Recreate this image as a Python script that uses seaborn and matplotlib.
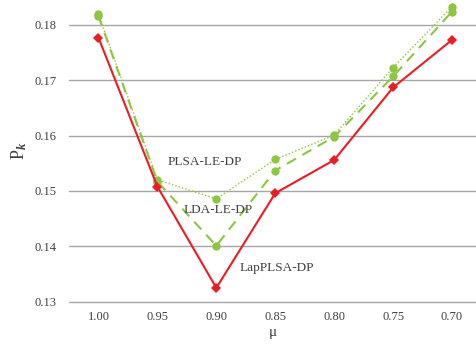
import matplotlib
matplotlib.use("Agg")
import matplotlib.pyplot as plt
import seaborn as sns
import pandas as pd

# mu values along the x axis (decreasing)
mu_labels = ["1.00", "0.95", "0.90", "0.85", "0.80", "0.75", "0.70"]

# P_k for each method
lapplsa_dp = [0.1777, 0.1508, 0.1325, 0.1496, 0.1556, 0.1687, 0.1773]
plsa_le_dp = [0.1819, 0.1520, 0.1486, 0.1557, 0.1601, 0.1723, 0.1833]
lda_le_dp = [0.1816, 0.1517, 0.1401, 0.1537, 0.1598, 0.1707, 0.1824]

sns.set_theme(style="white")
plt.rcParams["font.family"] = ["Liberation Serif", "DejaVu Serif"]
plt.rcParams["mathtext.fontset"] = "custom"
plt.rcParams["mathtext.rm"] = "Liberation Serif"
plt.rcParams["mathtext.it"] = "Liberation Serif:italic"
plt.rcParams["mathtext.bf"] = "Liberation Serif:italic:bold"

red = "#ED1C24"
green = "#8DC63F"
text_color = "#404040"

fig = plt.figure(figsize=(4.77, 3.45), dpi=100)
ax = fig.add_axes([69 / 477, 1 - 301.7 / 345, 1 - 69 / 477, 301.7 / 345])

df = pd.DataFrame({"mu": mu_labels, "lap": lapplsa_dp,
                   "plsa": plsa_le_dp, "lda": lda_le_dp})

sns.lineplot(data=df, x="mu", y="plsa", ax=ax, color=green, linestyle=(0, (1, 1.5)),
             linewidth=1.0, marker="o", markersize=6, markeredgewidth=0, sort=False)
sns.lineplot(data=df, x="mu", y="lda", ax=ax, color=green, linestyle=(0, (5, 3.5)),
             linewidth=1.5, marker="o", markersize=6, markeredgewidth=0, sort=False)
sns.lineplot(data=df, x="mu", y="lap", ax=ax, color=red, linestyle="-",
             linewidth=1.5, marker="D", markersize=5.5, markeredgewidth=0, sort=False)

ax.set_xlim(-0.5, (477 - 98) / 59)
ax.set_ylim(0.13, 0.1845)
ax.set_yticks([0.13, 0.14, 0.15, 0.16, 0.17, 0.18])
ax.set_yticklabels(["0.13", "0.14", "0.15", "0.16", "0.17", "0.18"])
ax.yaxis.grid(True, color="#A6A6A6", linewidth=1.0)
for gl in ax.get_ygridlines():
    gl.set_clip_on(False)
ax.xaxis.grid(False)
ax.set_axisbelow(True)
for side in ["left", "right", "top", "bottom"]:
    ax.spines[side].set_visible(False)

ax.tick_params(axis="both", length=0, labelsize=9, colors=text_color)
ax.tick_params(axis="y", pad=9)
ax.tick_params(axis="x", pad=7)

ax.set_xlabel("μ", fontsize=11, color=text_color, labelpad=2)
ax.set_ylabel(r"$\mathrm{P}_{\mathbf{k}}$", fontsize=13, color=text_color, labelpad=4)

# series names placed beside their curves
ax.text(1.18, 0.1553, "PLSA-LE-DP", fontsize=9.5, color=text_color, va="center")
ax.text(1.44, 0.1466, "LDA-LE-DP", fontsize=9.5, color=text_color, va="center")
ax.text(2.4, 0.1361, "LapPLSA-DP", fontsize=9.5, color=text_color, va="center")

fig.savefig("out.png", dpi=100)
